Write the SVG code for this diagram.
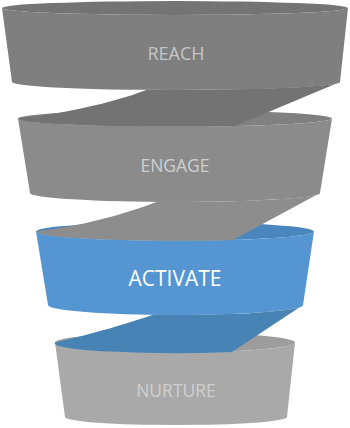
<svg xmlns="http://www.w3.org/2000/svg" width="350" height="428" viewBox="0 0 350 428">
<style>
.lbl{font-family:"Open Sans","Noto Sans","Liberation Sans",sans-serif;text-anchor:middle}
</style>
<rect width="350" height="428" fill="#ffffff"/>
<g id="nurture">
<ellipse cx="175" cy="342.5" rx="120" ry="10" fill="#9d9d9d"/>
<path d="M55,342.5 A120,10 0 0 0 295,342.5 L287,417 A111,8 0 0 1 65,417 Z" fill="#a9a9a9"/>
<text class="lbl" x="176" y="397" font-size="17.5" fill="#d0d0d0">NURTURE</text>
</g>
<g id="activate">
<ellipse cx="175" cy="231.5" rx="139" ry="9.3" fill="#4a86be"/>
<path d="M36,231.5 A139,9.3 0 0 0 314,231.5 L303,305 A127.5,10 0 0 1 48,305 Z" fill="#5596d2"/>
<text class="lbl" x="175" y="286" font-size="21" fill="#ffffff">ACTIVATE</text>
</g>
<g id="engage">
<ellipse cx="175" cy="118.5" rx="157" ry="8" fill="#808080"/>
<path d="M18,118.5 A157,8 0 0 0 332,118.5 L320,193 A145,9 0 0 1 30,193 Z" fill="#8b8b8b"/>
<text class="lbl" x="175" y="172" font-size="17.5" fill="#cfcfcf">ENGAGE</text>
</g>
<g id="reach">
<ellipse cx="175" cy="8" rx="173" ry="7" fill="#747474"/>
<path d="M2,8 A173,7 0 0 0 348,8 L340,82 A164,8 0 0 1 12,82 Z" fill="#7f7f7f"/>
<text class="lbl" x="176" y="60" font-size="18" fill="#c6c6c6">REACH</text>
</g>
<g id="connectors">
<path d="M147,89.8 A164,8 0 0 0 340,82 L235,126 A157,8 0 0 1 18,118.5 C60,114 110,104 147,89.8 Z" fill="#737373"/>
<path d="M157,201.8 A145,9 0 0 0 320,193 L233,240 A139,9.3 0 0 1 36,231.5 C80,226 120,216 157,201.8 Z" fill="#8d8d8d"/>
<path d="M153,314.8 A127.5,10 0 0 0 303,305 L232,352 A120,10 0 0 1 55,342.5 C75,338 115,328 153,314.8 Z" fill="#4883b6"/>
</g>
</svg>
